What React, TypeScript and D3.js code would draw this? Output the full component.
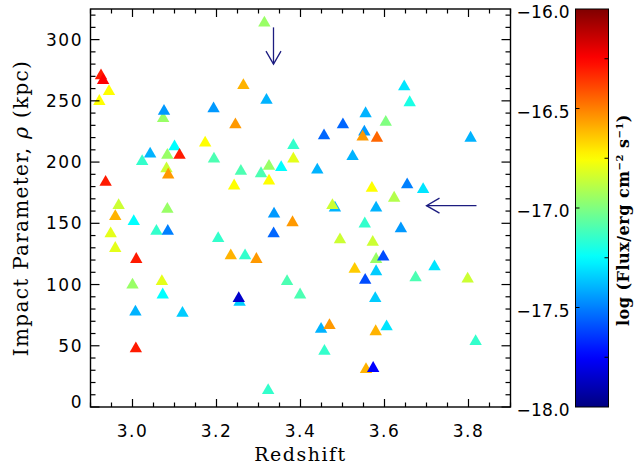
import React from "react";
import * as d3 from "d3";

// ---- data (redshift, impact parameter kpc, log flux) ----
const redshift = [
  3.314, 2.925, 2.930, 2.944, 2.921, 3.264, 3.319, 3.073, 3.075, 3.193,
  3.245, 3.173, 3.100, 3.042, 3.083, 3.112, 3.383, 3.023, 3.194, 3.081,
  3.085, 3.258, 3.306, 3.325, 3.354, 3.383, 2.936, 3.242, 3.325, 2.967,
  3.083, 3.337, 2.959, 3.003, 3.647, 3.660, 3.555, 3.501, 3.603, 3.456,
  3.552, 3.548, 3.582, 3.805, 3.524, 3.440, 3.570, 3.654, 3.692, 3.623,
  3.482, 3.476, 3.580, 3.381, 2.948, 3.057, 3.084, 3.336, 3.204, 2.959,
  3.009, 3.234, 3.268, 3.295, 3.000, 3.070, 3.368, 3.399, 3.072, 3.255,
  3.253, 3.007, 3.119, 3.008, 3.323, 3.553, 3.639, 3.494, 3.572, 3.580,
  3.597, 3.529, 3.580, 3.554, 3.719, 3.674, 3.798, 3.578, 3.449, 3.469,
  3.579, 3.605, 3.817, 3.457, 3.556, 3.573,
];
const impact = [
  315, 272, 268, 259, 251, 264, 252, 237, 243, 245,
  232, 217, 214, 208, 207, 207, 215, 202, 204, 196,
  191, 194, 192, 198, 197, 204, 185, 182, 186, 166,
  163, 159, 157, 153, 263, 250, 241, 232, 234, 223,
  226, 222, 221, 221, 206, 195, 180, 183, 179, 172,
  164, 166, 164, 152, 143, 145, 145, 143, 139, 131,
  122, 125, 125, 122, 101, 104, 104, 93, 93, 87,
  90, 79, 78, 49, 15, 151, 147, 138, 136, 122,
  124, 114, 112, 105, 116, 107, 106, 90, 65, 68,
  63, 67, 55, 47, 32, 33,
];
const logFlux = [
  -16.95, -16.3, -16.25, -16.75, -16.75, -16.6, -17.4, -16.95, -17.45, -17.45,
  -16.55, -16.75, -17.25, -17.4, -16.95, -16.3, -17.15, -17.15, -17.1, -16.85,
  -16.55, -17.1, -17.1, -16.95, -17.25, -16.8, -16.3, -16.75, -16.75, -16.85,
  -16.95, -17.45, -16.6, -17.25, -17.3, -17.2, -17.4, -17.55, -17.0, -17.55,
  -17.45, -16.55, -16.45, -17.4, -17.4, -17.4, -16.75, -17.5, -17.3, -16.9,
  -17.4, -16.85, -17.4, -16.55, -16.8, -17.15, -17.5, -17.55, -17.15, -16.8,
  -16.3, -16.6, -17.15, -16.55, -16.95, -16.8, -17.1, -17.1, -17.25, -17.35,
  -17.85, -17.4, -17.35, -16.3, -17.15, -17.15, -17.45, -16.85, -16.85, -16.95,
  -17.6, -16.65, -17.35, -17.6, -17.3, -17.1, -16.85, -17.35, -17.4, -16.55,
  -16.6, -17.3, -17.15, -17.15, -16.6, -17.75,
];

const xTicks = [3.0, 3.2, 3.4, 3.6, 3.8];
const yTicks = [0, 50, 100, 150, 200, 250, 300];
const cTicks = [-16.0, -16.5, -17.0, -17.5, -18.0];

// annotation arrows (data coordinates)
const downArrow = { z: 3.3357, from: 310, to: 280 };
const leftArrow = { rho: 164.4, from: 3.819, to: 3.70 };

const W = 635, H = 464;
const plot = { left: 90.5, right: 510.5, top: 9, bottom: 407 };
const cbar = { left: 575.5, right: 608.5 };

const jetStops = [-18, -17.75, -17.25, -16.75, -16.25, -16];
const jetColors = ["#000080", "#0000ff", "#00ffff", "#ffff00", "#ff0000", "#800000"];

export default function App() {
  const x = d3.scaleLinear().domain([2.9, 3.9]).range([plot.left, plot.right]);
  const y = d3.scaleLinear().domain([0, 325]).range([plot.bottom, plot.top]);
  const cy = d3.scaleLinear().domain([-18, -16]).range([plot.bottom, plot.top]);
  const color = d3.scaleLinear<string>().domain(jetStops).range(jetColors).interpolate(d3.interpolateRgb).clamp(true);

  const xMinor = d3.range(2.9, 3.9001, 0.05).map((v) => +v.toFixed(2));
  const yMinor = d3.range(0, 325, 10);
  const cMinor = [-16.25, -16.75, -17.25, -17.75];
  const cMajorInner = [-16.5, -17.0, -17.5];

  const triPath = "M0,-5.5L6.2,5.3L-6.2,5.3Z";
  const fontTick = "'DejaVu Sans', sans-serif";
  const fontTitle = "'DejaVu Serif', serif";

  const gradStops = d3.range(0, 1.0001, 0.02);

  const ax = x(downArrow.z);
  const ay0 = y(downArrow.from), ay1 = y(downArrow.to);
  const ly = y(leftArrow.rho);
  const lx0 = x(leftArrow.from), lx1 = x(leftArrow.to);

  return (
    <svg width={W} height={H} style={{ position: "absolute", left: 0, top: 0, background: "#fff" }}>
      <defs>
        <linearGradient id="jet" x1="0" y1="1" x2="0" y2="0">
          {gradStops.map((t) => (
            <stop key={t} offset={t} stopColor={color(-18 + 2 * t)} />
          ))}
        </linearGradient>
      </defs>
      <rect width={W} height={H} fill="#fff" />

      {/* markers */}
      {redshift.map((z, i) => (
        <path key={i} d={triPath} transform={`translate(${x(z)},${y(impact[i])})`} fill={color(logFlux[i])} />
      ))}

      {/* arrows */}
      <g stroke="#1c1c80" strokeWidth={1.3} fill="none">
        <line x1={ax} y1={ay0} x2={ax} y2={ay1} />
        <polyline points={`${ax - 7.5},${ay1 - 13} ${ax},${ay1} ${ax + 7.5},${ay1 - 13}`} />
        <line x1={lx0} y1={ly} x2={lx1} y2={ly} />
        <polyline points={`${lx1 + 13},${ly - 7.5} ${lx1},${ly} ${lx1 + 13},${ly + 7.5}`} />
      </g>

      {/* frame */}
      <rect x={plot.left} y={plot.top} width={plot.right - plot.left} height={plot.bottom - plot.top} fill="none" stroke="#000" strokeWidth={1.4} />
      <g stroke="#000" strokeWidth={1.2}>
        {xMinor.map((v) => {
          const major = xTicks.some((t) => Math.abs(t - v) < 1e-6);
          const len = major ? 8 : 4.5;
          return (
            <g key={v}>
              <line x1={x(v)} x2={x(v)} y1={plot.bottom} y2={plot.bottom - len} />
              <line x1={x(v)} x2={x(v)} y1={plot.top} y2={plot.top + len} />
            </g>
          );
        })}
        {yMinor.map((v) => {
          const major = v % 50 === 0;
          const len = major ? 9 : 5;
          return (
            <g key={v}>
              <line x1={plot.left} x2={plot.left + len} y1={y(v)} y2={y(v)} />
              <line x1={plot.right} x2={plot.right - len} y1={y(v)} y2={y(v)} />
            </g>
          );
        })}
      </g>

      {/* tick labels */}
      <g fontFamily={fontTick} fontSize={17} fill="#000">
        {xTicks.map((t) => (
          <text key={t} x={x(t)} y={437} textAnchor="middle" letterSpacing={1.5}>{t.toFixed(1)}</text>
        ))}
        {yTicks.map((t) => (
          <text key={t} x={83} y={t === 0 ? y(t) - 5 : y(t)} dy="0.36em" textAnchor="end" letterSpacing={1.5}>{t}</text>
        ))}
        {cTicks.map((t) => (
          <text key={t} x={570} y={cy(t) + 3} dy="0.36em" textAnchor="end" letterSpacing={0.3}>{"\u2212" + Math.abs(t).toFixed(1)}</text>
        ))}
      </g>

      {/* axis titles */}
      <text x={(plot.left + plot.right) / 2} y={461} textAnchor="middle" fontFamily={fontTitle} fontSize={19} letterSpacing={1.5}>Redshift</text>
      <text transform="translate(28,208) rotate(-90)" textAnchor="middle" fontFamily={fontTitle} fontSize={20} letterSpacing={1.3}>
        Impact Parameter, <tspan fontStyle="italic">ρ</tspan> (kpc)
      </text>

      {/* colorbar */}
      <rect x={cbar.left} y={plot.top} width={cbar.right - cbar.left} height={plot.bottom - plot.top} fill="url(#jet)" stroke="#000" strokeWidth={1} />
      <g stroke="#000" strokeWidth={1}>
        {cMajorInner.map((v) => (
          <line key={v} x1={cbar.left} x2={cbar.left + 4} y1={cy(v)} y2={cy(v)} />
        ))}
        {cMinor.map((v) => (
          <line key={v} x1={cbar.right} x2={cbar.right - 4} y1={cy(v)} y2={cy(v)} />
        ))}
      </g>
      <text transform="translate(629,220) rotate(-90)" textAnchor="middle" fontFamily={fontTitle} fontSize={16} fontWeight="bold" letterSpacing={0.5}>
        log (Flux/erg cm<tspan dy="-6" fontSize={10}>−2</tspan><tspan dy="6"> s</tspan><tspan dy="-6" fontSize={10}>−1</tspan><tspan dy="6">)</tspan>
      </text>
    </svg>
  );
}
